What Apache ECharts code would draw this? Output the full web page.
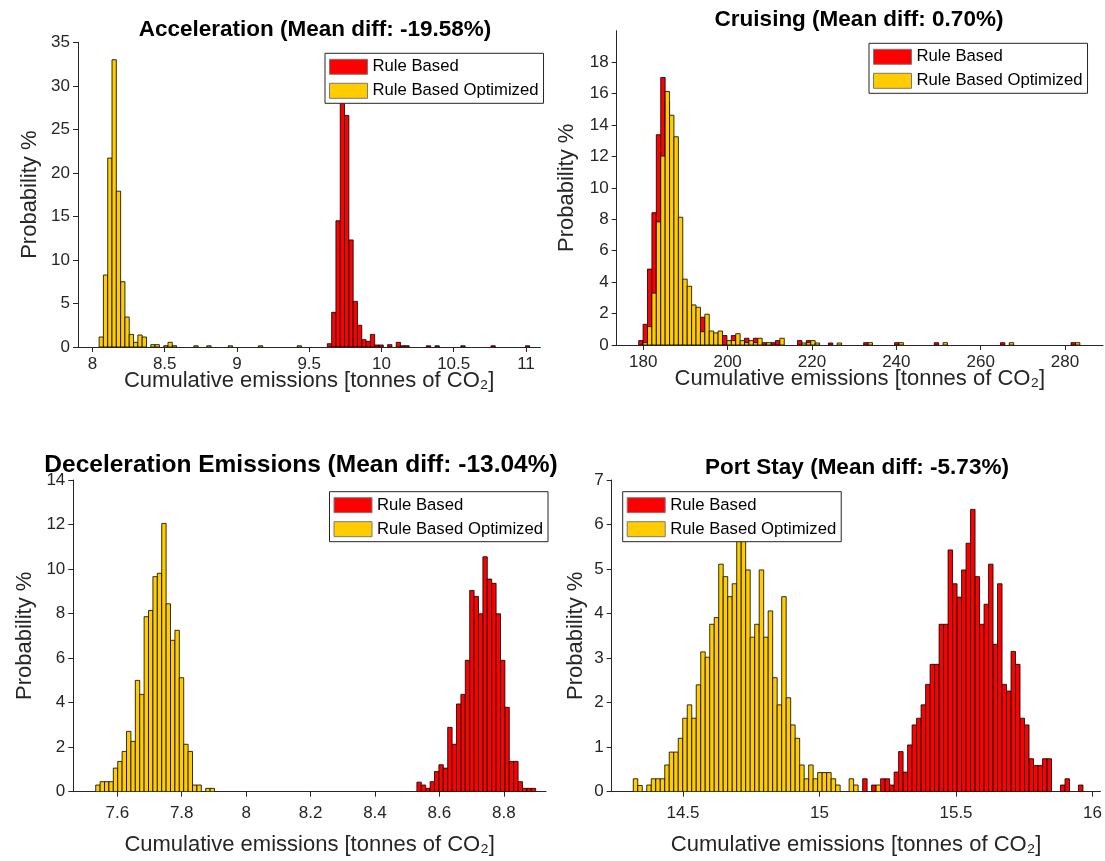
<!DOCTYPE html>
<html><head><meta charset="utf-8">
<script src="https://cdn.jsdelivr.net/npm/echarts@6/dist/echarts.min.js"></script>
<style>html,body{margin:0;padding:0;background:#fff;}#c{width:1105px;height:861px;}</style>
</head><body><div id="c"></div>
<script>
// ---------------- DATA ----------------
const seriesNames = ['Rule Based', 'Rule Based Optimized'];
const xAxisName = 'Cumulative emissions [tonnes of CO\u2082]';
const yAxisName = 'Probability %';

// Acceleration
const accTitle = 'Acceleration (Mean diff: -19.58%)';
const accBinStart = 8.046, accBinWidth = 0.0298;
const accRedFirstBin = 53;
const accRedPct = [0.38, 3.98, 14.5, 29.0, 26.6, 12.3, 5.24, 2.5, 0.84, 0.65, 1.45, 0.23, 0.23, 0, 0.27, 0, 0.54, 0.15, 0.15,
  0, 0, 0, 0, 0.14, 0, 0.14, 0, 0, 0, 0, 0, 0.14, 0, 0, 0, 0, 0, 0, 0.14, 0, 0, 0, 0, 0, 0, 0, 0.14];
const accOptFirstBin = 0;
const accOptPct = [1.15, 8.27, 21.7, 33.0, 17.9, 7.5, 3.44, 1.45, 0.54, 1.38, 1.15, 0, 0.27, 0.27, 0, 0.15, 0.54, 0.15,
  0, 0, 0, 0, 0.14, 0, 0, 0.14, 0, 0, 0, 0, 0.14, 0, 0, 0, 0, 0, 0, 0.14, 0, 0, 0, 0, 0, 0, 0, 0, 0.14];
const accXTicks = [8, 8.5, 9, 9.5, 10, 10.5, 11];
const accYTicks = [0, 5, 10, 15, 20, 25, 30, 35];

// Cruising
const cruTitle = 'Cruising (Mean diff: 0.70%)';
const cruBinStart = 178.91, cruBinWidth = 1.046;
const cruRedFirstBin = 0;
const cruRedPct = [0.28, 1.32, 4.83, 8.42, 13.38, 17.02, 15.5, 11.5, 7.5, 4.0, 2.5, 1.8, 1.2, 1.0, 1.77, 0.8, 0.6, 0.5, 0.4, 0.6,
  0, 0.6, 0, 0, 0.43, 0, 0.43, 0, 0.15, 0, 0.15, 0.28, 0, 0, 0, 0, 0.28, 0, 0.28, 0,
  0, 0, 0, 0.13, 0, 0, 0, 0, 0, 0, 0, 0.15, 0, 0, 0, 0, 0, 0, 0.15, 0,
  0, 0, 0, 0, 0, 0, 0, 0.15, 0, 0, 0, 0, 0, 0, 0, 0, 0, 0, 0, 0,
  0, 0, 0.15, 0, 0, 0, 0, 0, 0, 0, 0, 0, 0, 0, 0, 0, 0, 0, 0.15];
const cruOptFirstBin = 1;
const cruOptPct = [0.15, 1.17, 3.30, 7.83, 12.02, 16.13, 14.62, 13.25, 8.13, 4.19, 3.74, 2.55, 2.40, 0.85, 1.96, 0.89, 0.77, 0.89, 0,
  0.28, 0.28, 0.72, 0.28, 0.15, 0.28, 0.15, 0.43, 0, 0.15, 0, 0, 0.43, 0, 0, 0, 0, 0.13, 0.15, 0.28,
  0.13, 0, 0, 0, 0, 0.13, 0, 0, 0, 0, 0, 0, 0.15, 0, 0, 0, 0, 0, 0, 0.15,
  0, 0, 0, 0, 0, 0, 0, 0, 0, 0.15, 0, 0, 0, 0, 0, 0, 0, 0, 0, 0,
  0, 0, 0, 0, 0.15, 0, 0, 0, 0, 0, 0, 0, 0, 0, 0, 0, 0, 0, 0, 0.15];
const cruXTicks = [180, 200, 220, 240, 260, 280];
const cruYTicks = [0, 2, 4, 6, 8, 10, 12, 14, 16, 18];

// Deceleration
const decTitle = 'Deceleration Emissions (Mean diff: -13.04%)';
const decBinStart = 7.533, decBinWidth = 0.01366;
const decRedFirstBin = 73;
const decRedPct = [0.43, 0.30, 0.15, 0.45, 0.91, 1.21, 1.06, 2.89, 2.13, 3.94, 4.37, 5.90, 9.04, 8.77, 7.99, 10.55, 9.55,
  9.36, 7.99, 5.90, 3.79, 1.36, 1.36, 0.45, 0.15, 0.15, 0.15];
const decOptFirstBin = 0;
const decOptPct = [0.30, 0.45, 0.45, 0.45, 1.06, 1.36, 1.81, 2.71, 2.26, 5.0, 4.37, 7.86, 8.14, 9.66, 9.81, 12.05, 8.44,
  6.80, 7.25, 5.12, 2.13, 1.81, 0.30, 0.30, 0, 0.15, 0.15];
const decXTicks = [7.6, 7.8, 8, 8.2, 8.4, 8.6, 8.8];
const decYTicks = [0, 2, 4, 6, 8, 10, 12, 14];

// Port Stay
const porTitle = 'Port Stay (Mean diff: -5.73%)';
const porBinStart = 14.318, porBinWidth = 0.01647;
const porRedFirstBin = 51;
const porRedPct = [0.29, 0, 0.15, 0, 0.29, 0.29, 0.15, 0.44, 0.90, 0.44, 1.05, 1.50, 1.65, 1.95, 2.41, 2.86, 2.86, 3.76, 3.76,
  5.43, 4.67, 4.37, 4.98, 5.58, 6.34, 4.83, 3.76, 4.21, 5.11, 3.31, 4.67, 2.41, 2.26, 3.15, 2.86, 1.65, 1.50, 0.74, 0.59,
  0.59, 0.74, 0.74, 0, 0, 0.15, 0.29, 0, 0, 0.15];
const porOptFirstBin = 0;
const porOptPct = [0.29, 0.14, 0, 0.15, 0.29, 0.29, 0.29, 0.60, 0.89, 0.89, 1.20, 1.65, 1.95, 1.65, 2.40, 3.14, 3.02, 3.76,
  3.91, 5.11, 4.83, 4.38, 4.67, 5.75, 5.75, 4.98, 3.47, 3.76, 4.98, 3.47, 4.06, 2.56, 1.95, 4.38, 2.11, 1.50, 1.20, 0.60,
  0.29, 0.60, 0.29, 0.43, 0.43, 0.43, 0.29, 0.15, 0, 0, 0.29, 0.15, 0, 0, 0, 0, 0.15];
const porXTicks = [14.5, 15, 15.5, 16];
const porYTicks = [0, 1, 2, 3, 4, 5, 6, 7];

// ---------------- LAYOUT / STYLE ----------------
const FONT = '"Liberation Sans", Arial, sans-serif';
const AX = '#262626';
const RED = '#ff0000', YEL = '#ffcc00';

const panels = [
  { title: accTitle, titleX: 310, titleTop: 13, titleSize: 22.5, grid: { left: 78, top: 42.3, width: 462.4, height: 304.7 },
    xMin: 7.9, xMax: 11.1, xTicks: accXTicks, yMax: 35, yTicks: accYTicks,
    start: accBinStart, width: accBinWidth, red: accRedPct, redFirst: accRedFirstBin, opt: accOptPct, optFirst: accOptFirstBin,
    legend: { left: 325, top: 53.3 }, yGap: 37, xGap: 23, xMargin: 9 },
  { title: cruTitle, titleX: 854, titleTop: 3, titleSize: 22.5, grid: { left: 616.7, top: 30.7, width: 486.3, height: 314.3 },
    xMin: 173.7, xMax: 289, xTicks: cruXTicks, yMax: 20, yTicks: cruYTicks,
    start: cruBinStart, width: cruBinWidth, red: cruRedPct, redFirst: cruRedFirstBin, opt: cruOptPct, optFirst: cruOptFirstBin,
    legend: { left: 869, top: 43.3 }, yGap: 38.7, xGap: 23, xMargin: 9 },
  { title: decTitle, titleX: 296, titleTop: 448, titleSize: 24.5, grid: { left: 73.3, top: 480, width: 472.7, height: 311.7 },
    xMin: 7.4634, xMax: 8.931, xTicks: decXTicks, yMax: 14, yTicks: decYTicks,
    start: decBinStart, width: decBinWidth, red: decRedPct, redFirst: decRedFirstBin, opt: decOptPct, optFirst: decOptFirstBin,
    legend: { left: 329.5, top: 491.7 }, yGap: 37, xGap: 42, xMargin: 13 },
  { title: porTitle, titleX: 852, titleTop: 451, titleSize: 22.5, grid: { left: 611.7, top: 480, width: 491.3, height: 311.7 },
    xMin: 14.239, xMax: 16.029, xTicks: porXTicks, yMax: 7, yTicks: porYTicks,
    start: porBinStart, width: porBinWidth, red: porRedPct, redFirst: porRedFirstBin, opt: porOptPct, optFirst: porOptFirstBin,
    legend: { left: 622.7, top: 491.7 }, yGap: 24.7, xGap: 42, xMargin: 13 }
];

function binsToData(start, width, firstBin, pct) {
  return pct.map((v, i) => {
    const k = firstBin + i;
    return [start + k * width, start + (k + 1) * width, v];
  });
}

function renderBar(params, api) {
  const v = api.value(2);
  if (!v) return null;
  const p0 = api.coord([api.value(0), v]);
  const p1 = api.coord([api.value(1), 0]);
  return {
    type: 'rect',
    shape: { x: p0[0], y: p0[1], width: p1[0] - p0[0], height: p1[1] - p0[1] },
    style: { fill: api.visual('color'), stroke: '#000', lineWidth: 0.8 }
  };
}

const option = {
  animation: false,
  backgroundColor: '#fff',
  textStyle: { fontFamily: FONT },
  title: [], grid: [], xAxis: [], yAxis: [], legend: [], series: []
};

panels.forEach((p, i) => {
  option.title.push({ text: p.title, left: p.titleX, top: p.titleTop, textAlign: 'center',
    textStyle: { fontFamily: FONT, fontWeight: 'bold', fontSize: p.titleSize, color: '#000' } });
  option.grid.push(Object.assign({ containLabel: false }, p.grid));
  option.xAxis.push({
    type: 'value', gridIndex: i, min: p.xMin, max: p.xMax,
    name: xAxisName, nameLocation: 'middle', nameGap: p.xGap, nameMoveOverlap: false,
    nameTextStyle: { fontFamily: FONT, fontSize: 22, color: AX },
    axisLine: { show: true, onZero: false, lineStyle: { color: AX, width: 1 } },
    axisTick: { show: true, inside: false, length: 5, customValues: p.xTicks, lineStyle: { color: AX } },
    axisLabel: { customValues: p.xTicks, margin: p.xMargin, fontFamily: FONT, fontSize: 17, color: AX,
      formatter: v => String(v) },
    splitLine: { show: false }
  });
  option.yAxis.push({
    type: 'value', gridIndex: i, min: 0, max: p.yMax,
    name: yAxisName, nameLocation: 'middle', nameGap: p.yGap, nameMoveOverlap: false,
    nameTextStyle: { fontFamily: FONT, fontSize: 22, color: AX },
    axisLine: { show: true, lineStyle: { color: AX, width: 1 } },
    axisTick: { show: true, inside: false, length: 5, customValues: p.yTicks, lineStyle: { color: AX } },
    axisLabel: { customValues: p.yTicks, margin: 8, fontFamily: FONT, fontSize: 17, color: AX },
    splitLine: { show: false }
  });
  option.legend.push({
    data: seriesNames, orient: 'vertical', left: p.legend.left, top: p.legend.top,
    padding: [5, 5, 4, 4], itemGap: 7, itemWidth: 38, itemHeight: 15, itemTextGap: 4,
    icon: 'rect', backgroundColor: '#fff', borderColor: AX, borderWidth: 1,
    itemStyle: { borderColor: '#7a7a7a', borderWidth: 1 },
    textStyle: { fontFamily: FONT, fontSize: 16.7, color: '#000' },
    selectedMode: false, z: 10
  });
  option.series.push({
    type: 'custom', name: seriesNames[0], xAxisIndex: i, yAxisIndex: i, clip: true,
    itemStyle: { color: RED }, encode: { x: [0, 1], y: 2 },
    renderItem: renderBar, data: binsToData(p.start, p.width, p.redFirst, p.red), z: 2
  });
  option.series.push({
    type: 'custom', name: seriesNames[1], xAxisIndex: i, yAxisIndex: i, clip: true,
    itemStyle: { color: YEL }, encode: { x: [0, 1], y: 2 },
    renderItem: renderBar, data: binsToData(p.start, p.width, p.optFirst, p.opt), z: 3
  });
});

const chart = echarts.init(document.getElementById('c'));
chart.setOption(option);
</script></body></html>
